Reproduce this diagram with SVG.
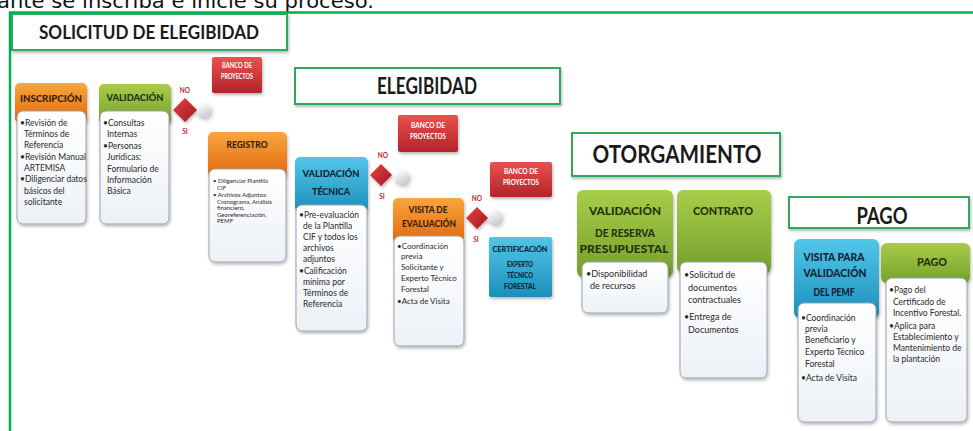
<svg xmlns="http://www.w3.org/2000/svg" width="973" height="431" viewBox="0 0 973 431">
<defs>
<linearGradient id="gOr" x1="0" y1="0" x2="0" y2="1"><stop offset="0" stop-color="#f8a640"/><stop offset="1" stop-color="#e2670c"/></linearGradient>
<linearGradient id="gGr" x1="0" y1="0" x2="0" y2="1"><stop offset="0" stop-color="#a9cd4a"/><stop offset="1" stop-color="#74a02a"/></linearGradient>
<linearGradient id="gBl" x1="0" y1="0" x2="0" y2="1"><stop offset="0" stop-color="#52c6e8"/><stop offset="1" stop-color="#1c8fbc"/></linearGradient>
<linearGradient id="gRd" x1="0" y1="0" x2="0" y2="1"><stop offset="0" stop-color="#e8524f"/><stop offset="1" stop-color="#b3232a"/></linearGradient>
<linearGradient id="gDm" x1="0" y1="0" x2="1" y2="1"><stop offset="0" stop-color="#e04444"/><stop offset="1" stop-color="#a8161c"/></linearGradient>
<linearGradient id="gBd" x1="0" y1="0" x2="0" y2="1"><stop offset="0" stop-color="#ffffff"/><stop offset="1" stop-color="#edf1f6"/></linearGradient>
<linearGradient id="gBb" x1="0" y1="0" x2="1" y2="1"><stop offset="0" stop-color="#ffffff"/><stop offset="1" stop-color="#c4c8d0"/></linearGradient>
<filter id="sh" x="-20%" y="-20%" width="140%" height="140%"><feDropShadow dx="1" dy="2" stdDeviation="1.6" flood-color="#000" flood-opacity="0.28"/></filter>
<filter id="sh2" x="-60%" y="-60%" width="220%" height="220%"><feDropShadow dx="2" dy="2" stdDeviation="2.5" flood-color="#000" flood-opacity="0.35"/></filter>
</defs>
<style>
.frame{fill:none;stroke:#00b050;stroke-width:2.5}
.tbox{fill:#fff;stroke:#2fa85a;stroke-width:2}
.ttl{font-family:Lato,"Liberation Sans",sans-serif;font-weight:bold;fill:#1a1a1a;text-anchor:middle}
.hd{font-family:Lato,"Liberation Sans",sans-serif;font-weight:900;text-anchor:middle;font-size:10px}
.ho{fill:#3b1d08}.hg{fill:#26330c}.hb{fill:#0f2436}
.body{fill:url(#gBd);stroke:#9aa3ae;stroke-width:1}
.bt{font-family:Lato,"Liberation Sans",sans-serif;fill:#2a2a2a;font-size:8.5px}
.bk{font-family:Lato,"Liberation Sans",sans-serif;font-weight:bold;fill:#fff;font-size:7px;text-anchor:middle}
.ns{font-family:Lato,"Liberation Sans",sans-serif;font-weight:bold;fill:#c0282d;font-size:6.5px;text-anchor:middle}
.top{font-family:"DejaVu Sans",Verdana,sans-serif;fill:#111;font-size:20px}
</style>

<text class="top" x="-3" y="7.5" textLength="377" lengthAdjust="spacingAndGlyphs">ante se inscriba e inicie su proceso.</text>

<g id="connectors">
<path class="frame" d="M10 431 V12.5 H975"/>
</g>

<g id="t-solicitud"><rect class="tbox" x="12" y="14" width="275" height="36" filter="url(#sh)"/><text class="ttl" x="149" y="39" font-size="18" textLength="220" lengthAdjust="spacingAndGlyphs">SOLICITUD DE ELEGIBIDAD</text></g>
<g id="t-elegibilidad"><rect class="tbox" x="295" y="68" width="265" height="36" filter="url(#sh)"/><text class="ttl" x="427" y="94" font-size="22" textLength="100" lengthAdjust="spacingAndGlyphs">ELEGIBIDAD</text></g>
<g id="t-otorgamiento"><rect class="tbox" x="572" y="133" width="208" height="43" filter="url(#sh)"/><text class="ttl" x="677" y="163" font-size="24" textLength="169" lengthAdjust="spacingAndGlyphs">OTORGAMIENTO</text></g>
<g id="t-pago"><rect class="tbox" x="789" y="197" width="180" height="31" filter="url(#sh)"/><text class="ttl" x="882" y="224" font-size="22" textLength="51" lengthAdjust="spacingAndGlyphs">PAGO</text></g>

<g id="inscripcion">
<rect x="15" y="83" width="72" height="40" rx="5" fill="url(#gOr)" filter="url(#sh)"/>
<text class="hd ho" x="51" y="102" textLength="62" lengthAdjust="spacingAndGlyphs">INSCRIPCIÓN</text>
<rect class="body" x="17" y="111" width="69" height="113" rx="6" filter="url(#sh)"/>
<text class="bt"><tspan x="20" y="126">•Revisión de</tspan><tspan x="24" y="137">Términos de</tspan><tspan x="24" y="148">Referencia</tspan><tspan x="20" y="160">•Revisión Manual</tspan><tspan x="24" y="171">ARTEMISA</tspan><tspan x="20" y="182">•Diligenciar datos</tspan><tspan x="24" y="194">básicos del</tspan><tspan x="24" y="205">solicitante</tspan></text>
</g>

<g id="validacion">
<rect x="99" y="84" width="72" height="40" rx="5" fill="url(#gGr)" filter="url(#sh)"/>
<text class="hd hg" x="135" y="101" textLength="57" lengthAdjust="spacingAndGlyphs">VALIDACIÓN</text>
<rect class="body" x="100" y="111" width="69" height="113" rx="6" filter="url(#sh)"/>
<text class="bt"><tspan x="103" y="126">•Consultas</tspan><tspan x="107" y="137">Internas</tspan><tspan x="103" y="149">•Personas</tspan><tspan x="107" y="160">Jurídicas:</tspan><tspan x="107" y="172">Formulario de</tspan><tspan x="107" y="183">Información</tspan><tspan x="107" y="194">Básica</tspan></text>
</g>

<g id="decision1">
<text class="ns" x="185" y="93">NO</text>
<path d="M185 98 L197 110 L185 122 L173 110 Z" fill="url(#gDm)" filter="url(#sh)"/>
<text class="ns" x="185" y="134">SI</text>
<rect x="198" y="104" width="12" height="12" rx="3" transform="rotate(20 204 110)" fill="url(#gBb)" filter="url(#sh2)"/>
</g>

<g id="banco1">
<rect x="212" y="57" width="50" height="36" rx="2" fill="url(#gRd)" filter="url(#sh)"/>
<text class="bk" x="237" y="68" textLength="30" lengthAdjust="spacingAndGlyphs">BANCO DE</text>
<text class="bk" x="237" y="79" textLength="32" lengthAdjust="spacingAndGlyphs">PROYECTOS</text>
</g>

<g id="registro">
<rect x="208" y="132" width="79" height="45" rx="5" fill="url(#gOr)" filter="url(#sh)"/>
<text class="hd ho" x="247" y="148" textLength="41" lengthAdjust="spacingAndGlyphs">REGISTRO</text>
<rect class="body" x="209" y="169" width="77" height="93" rx="6" filter="url(#sh)"/>
<text class="bt" font-size="6" style="font-size:6px"><tspan x="213" y="183">• Diligenciar Plantilla</tspan><tspan x="217" y="189.5">CIF</tspan><tspan x="213" y="197">• Archivos Adjuntos:</tspan><tspan x="217" y="203.5">Cronograma, Análisis</tspan><tspan x="217" y="210">financiero,</tspan><tspan x="217" y="216.5">Georeferenciación,</tspan><tspan x="217" y="223">PEMF</tspan></text>
</g>

<g id="validacion-tecnica">
<rect x="295" y="157" width="73" height="55" rx="5" fill="url(#gBl)" filter="url(#sh)"/>
<text class="hd hb" x="331" y="177" textLength="57" lengthAdjust="spacingAndGlyphs">VALIDACIÓN</text>
<text class="hd hb" x="331" y="195" textLength="38" lengthAdjust="spacingAndGlyphs">TÉCNICA</text>
<rect class="body" x="296" y="205" width="71" height="126" rx="6" filter="url(#sh)"/>
<text class="bt"><tspan x="299" y="218">•Pre-evaluación</tspan><tspan x="303" y="229">de la Plantilla</tspan><tspan x="303" y="240">CIF y todos los</tspan><tspan x="303" y="251">archivos</tspan><tspan x="303" y="262">adjuntos</tspan><tspan x="299" y="274">•Calificación</tspan><tspan x="303" y="285">mínima por</tspan><tspan x="303" y="296">Términos de</tspan><tspan x="303" y="307">Referencia</tspan></text>
</g>

<g id="decision2">
<text class="ns" x="383" y="158">NO</text>
<path d="M381 164 L392 175 L381 186 L370 175 Z" fill="url(#gDm)" filter="url(#sh)"/>
<text class="ns" x="382" y="199">SI</text>
<rect x="396" y="171" width="12" height="12" rx="3" transform="rotate(20 402 177)" fill="url(#gBb)" filter="url(#sh2)"/>
</g>

<g id="banco2">
<rect x="398" y="115" width="60" height="37" rx="2" fill="url(#gRd)" filter="url(#sh)"/>
<text class="bk" x="428" y="128" textLength="34" lengthAdjust="spacingAndGlyphs">BANCO DE</text>
<text class="bk" x="428" y="139" textLength="36" lengthAdjust="spacingAndGlyphs">PROYECTOS</text>
</g>

<g id="visita-evaluacion">
<rect x="393" y="198" width="71" height="45" rx="5" fill="url(#gOr)" filter="url(#sh)"/>
<text class="hd ho" x="428" y="213" textLength="39" lengthAdjust="spacingAndGlyphs">VISITA DE</text>
<text class="hd ho" x="429" y="227" textLength="54" lengthAdjust="spacingAndGlyphs">EVALUACIÓN</text>
<rect class="body" x="394" y="236" width="70" height="110" rx="6" filter="url(#sh)"/>
<text class="bt" style="font-size:8px"><tspan x="397" y="249">•Coordinación</tspan><tspan x="401" y="259">previa</tspan><tspan x="401" y="270">Solicitante y</tspan><tspan x="401" y="281">Experto Técnico</tspan><tspan x="401" y="292">Forestal</tspan><tspan x="397" y="304">•Acta de Visita</tspan></text>
</g>

<g id="decision3">
<text class="ns" x="477" y="201">NO</text>
<path d="M477 207 L488 218 L477 229 L466 218 Z" fill="url(#gDm)" filter="url(#sh)"/>
<text class="ns" x="476" y="242">SI</text>
<rect x="489" y="211" width="12" height="12" rx="3" transform="rotate(20 495 217)" fill="url(#gBb)" filter="url(#sh2)"/>
</g>

<g id="banco3">
<rect x="490" y="162" width="62" height="35" rx="2" fill="url(#gRd)" filter="url(#sh)"/>
<text class="bk" x="521" y="174" textLength="34" lengthAdjust="spacingAndGlyphs">BANCO DE</text>
<text class="bk" x="521" y="185" textLength="36" lengthAdjust="spacingAndGlyphs">PROYECTOS</text>
</g>

<g id="certificacion">
<rect x="489" y="237" width="63" height="60" rx="2" fill="url(#gBl)" filter="url(#sh)"/>
<text class="hd hb" style="font-size:7px" x="520" y="252" textLength="55" lengthAdjust="spacingAndGlyphs">CERTIFICACIÓN</text>
<text class="hd hb" style="font-size:7px" x="520" y="267" textLength="26" lengthAdjust="spacingAndGlyphs">EXPERTO</text>
<text class="hd hb" style="font-size:7px" x="520" y="278" textLength="26" lengthAdjust="spacingAndGlyphs">TÉCNICO</text>
<text class="hd hb" style="font-size:7px" x="520" y="289" textLength="32" lengthAdjust="spacingAndGlyphs">FORESTAL</text>
</g>

<g id="validacion-reserva">
<rect x="577" y="190" width="96" height="87" rx="6" fill="url(#gGr)" filter="url(#sh)"/>
<text class="hd hg" style="font-size:11px" x="625" y="215" textLength="72" lengthAdjust="spacingAndGlyphs">VALIDACIÓN</text>
<text class="hd hg" style="font-size:11px" x="625" y="237" textLength="60" lengthAdjust="spacingAndGlyphs">DE RESERVA</text>
<text class="hd hg" style="font-size:11px" x="624" y="253" textLength="89" lengthAdjust="spacingAndGlyphs">PRESUPUESTAL</text>
<rect class="body" x="582" y="262" width="86" height="51" rx="6" filter="url(#sh)"/>
<text class="bt" style="font-size:9px"><tspan x="586" y="277">•Disponibilidad</tspan><tspan x="590" y="289">de recursos</tspan></text>
</g>

<g id="contrato">
<rect x="677" y="190" width="94" height="83" rx="6" fill="url(#gGr)" filter="url(#sh)"/>
<text class="hd hg" style="font-size:11px" x="723" y="215" textLength="60" lengthAdjust="spacingAndGlyphs">CONTRATO</text>
<rect class="body" x="680" y="262" width="87" height="116" rx="6" filter="url(#sh)"/>
<text class="bt" style="font-size:9px"><tspan x="684" y="278">•Solicitud de</tspan><tspan x="688" y="291">documentos</tspan><tspan x="688" y="303">contractuales</tspan><tspan x="684" y="320">•Entrega de</tspan><tspan x="688" y="333">Documentos</tspan></text>
</g>

<g id="visita-pemf">
<rect x="794" y="239" width="85" height="79" rx="6" fill="url(#gBl)" filter="url(#sh)"/>
<text class="hd hb" style="font-size:11px" x="834" y="261" textLength="61" lengthAdjust="spacingAndGlyphs">VISITA PARA</text>
<text class="hd hb" style="font-size:11px" x="835" y="277" textLength="63" lengthAdjust="spacingAndGlyphs">VALIDACIÓN</text>
<text class="hd hb" style="font-size:11px" x="834" y="296" textLength="41" lengthAdjust="spacingAndGlyphs">DEL PEMF</text>
<rect class="body" x="798" y="303" width="78" height="119" rx="6" filter="url(#sh)"/>
<text class="bt"><tspan x="801" y="321">•Coordinación</tspan><tspan x="805" y="332">previa</tspan><tspan x="805" y="343">Beneficiario y</tspan><tspan x="805" y="355">Experto Técnico</tspan><tspan x="805" y="367">Forestal</tspan><tspan x="801" y="381">•Acta de Visita</tspan></text>
</g>

<g id="pago">
<rect x="881" y="243" width="89" height="40" rx="6" fill="url(#gGr)" filter="url(#sh)"/>
<text class="hd hg" style="font-size:11px" x="932" y="266" textLength="30" lengthAdjust="spacingAndGlyphs">PAGO</text>
<rect class="body" x="886" y="278" width="81" height="144" rx="6" filter="url(#sh)"/>
<text class="bt"><tspan x="889" y="293">•Pago del</tspan><tspan x="893" y="305">Certificado de</tspan><tspan x="893" y="316">Incentivo Forestal.</tspan><tspan x="889" y="329">•Aplica para</tspan><tspan x="893" y="340">Establecimiento y</tspan><tspan x="893" y="351">Mantenimiento de</tspan><tspan x="893" y="362">la plantación</tspan></text>
</g>
</svg>
